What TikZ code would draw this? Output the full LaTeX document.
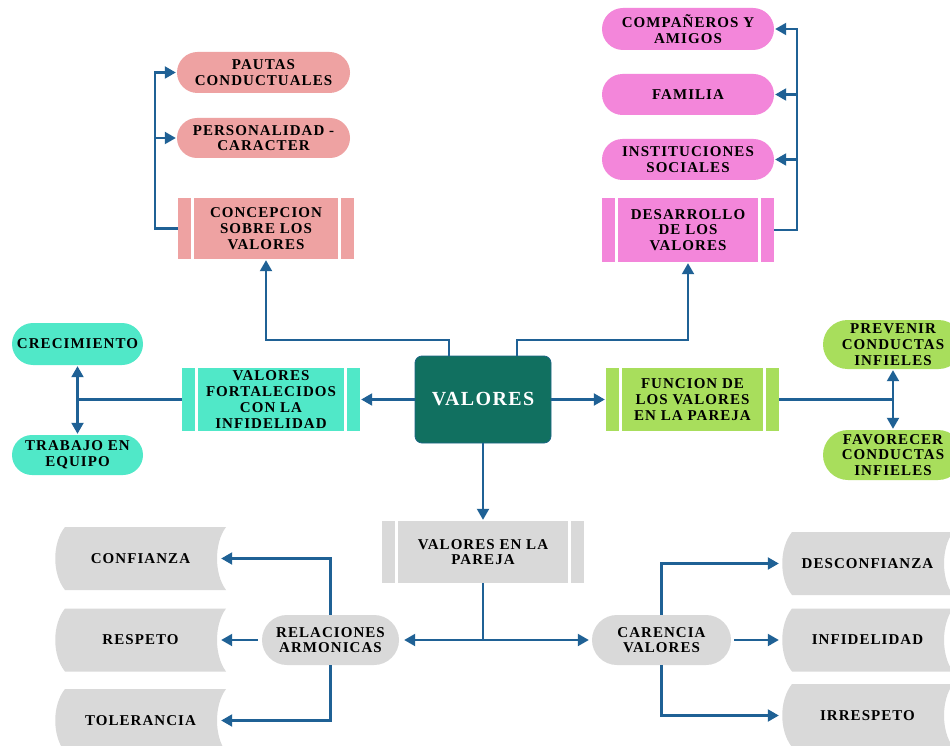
\documentclass[tikz,border=0pt]{standalone}
\usepackage{fontspec}
\setmainfont{Liberation Serif}[LetterSpace=7]
\usetikzlibrary{arrows.meta,shapes.misc}
\definecolor{arrowblue}{HTML}{1F6195}
\definecolor{salmon}{HTML}{EEA2A2}
\definecolor{pinkm}{HTML}{F386DA}
\definecolor{tealc}{HTML}{50E8C8}
\definecolor{greenc}{HTML}{A8DE5C}
\definecolor{grayc}{HTML}{D9D9D9}
\definecolor{centerc}{HTML}{117060}
\tikzset{
  txt/.style={font=\fontsize{15}{15.7}\selectfont\bfseries, align=center, text=black, inner sep=0pt},
  procbox/.style={txt, rectangle, minimum width=#1, path picture={
      \draw[white, line width=3pt]
        ([xshift=14.5pt]path picture bounding box.south west) -- ([xshift=14.5pt]path picture bounding box.north west)
        ([xshift=-14.5pt]path picture bounding box.south east) -- ([xshift=-14.5pt]path picture bounding box.north east);}},
  stad/.style={txt, rounded rectangle, minimum width=#1},
  storebox/.style={txt, rectangle, minimum width=171pt, minimum height=63pt, path picture={
      \fill[grayc]
        ([xshift=10pt]path picture bounding box.north west)
        .. controls ([xshift=-3pt,yshift=-16pt]path picture bounding box.north west)
        and ([xshift=-3pt,yshift=16pt]path picture bounding box.south west) ..
        ([xshift=10pt]path picture bounding box.south west)
        -- (path picture bounding box.south east)
        .. controls ([xshift=-12pt,yshift=16pt]path picture bounding box.south east)
        and ([xshift=-12pt,yshift=-16pt]path picture bounding box.north east) ..
        (path picture bounding box.north east) -- cycle;}},
  conn/.style={draw=arrowblue, line width=2.1pt},
  arr/.style={conn, -{Triangle[length=11pt,width=12pt]}, shorten >=1pt},
}
\begin{document}
\begin{tikzpicture}[x=1pt,y=-1pt]
\clip (0,0) rectangle (950,746);
\fill[white] (0,0) rectangle (950,746);

% centre
\node[rectangle, rounded corners=7pt, fill=centerc, draw=arrowblue!70!centerc, line width=0.8pt,
  minimum width=136pt, minimum height=87pt, text=white,
  font=\fontsize{20}{22}\selectfont\bfseries] (valores) at (483,399.5) {VALORES};

% top left group
\node[procbox=176pt, fill=salmon, minimum height=61pt] (concep) at (266,228.5) {CONCEPCION\\SOBRE LOS\\VALORES};
\node[stad=173pt, fill=salmon, minimum height=41pt] (pautas) at (263.5,72.5) {PAUTAS\\CONDUCTUALES};
\node[stad=173pt, fill=salmon, minimum height=40pt] (person) at (263.5,138) {PERSONALIDAD -\\CARACTER};

% top right group
\node[procbox=172pt, fill=pinkm, minimum height=64pt] (desarr) at (688,230) {DESARROLLO\\DE LOS\\VALORES};
\node[stad=172pt, fill=pinkm, minimum height=42pt] (compan) at (688,29) {COMPAÑEROS Y\\AMIGOS};
\node[stad=172pt, fill=pinkm, minimum height=41pt] (familia) at (688,94.5) {FAMILIA};
\node[stad=172pt, fill=pinkm, minimum height=41pt] (instit) at (688,159.5) {INSTITUCIONES\\SOCIALES};

% left group
\node[procbox=178pt, fill=tealc, minimum height=63pt] (fort) at (271,399.5) {VALORES\\FORTALECIDOS\\CON LA\\INFIDELIDAD};
\node[stad=131pt, fill=tealc, minimum height=42pt] (crec) at (77.5,344) {CRECIMIENTO};
\node[stad=131pt, fill=tealc, minimum height=40pt] (trab) at (77.5,455) {TRABAJO EN\\EQUIPO};

% right group
\node[procbox=173pt, fill=greenc, minimum height=63pt] (func) at (692.5,399.5) {FUNCION DE\\LOS VALORES\\EN LA PAREJA};
\node[stad=140pt, fill=greenc, minimum height=49pt] (prev) at (893,344.5) {PREVENIR\\CONDUCTAS\\INFIELES};
\node[stad=140pt, fill=greenc, minimum height=50pt] (favo) at (893,455) {FAVORECER\\CONDUCTAS\\INFIELES};

% bottom
\node[procbox=202pt, fill=grayc, minimum height=62pt] (pareja) at (483,552) {VALORES EN LA\\PAREJA};
\node[stad=137pt, fill=grayc, minimum height=50pt] (relac) at (330.5,640) {RELACIONES\\ARMONICAS};
\node[stad=139pt, fill=grayc, minimum height=50pt] (caren) at (661.5,640) {CARENCIA\\VALORES};

\node[storebox] (conf) at (140.5,558.5) {CONFIANZA};
\node[storebox] (resp) at (140.5,640) {RESPETO};
\node[storebox] (toler) at (140.5,720.5) {TOLERANCIA};
\node[storebox] (desc) at (867.5,563.5) {DESCONFIANZA};
\node[storebox] (infid) at (867.5,640) {INFIDELIDAD};
\node[storebox] (irres) at (867.5,715.5) {IRRESPETO};

% connectors from centre
\draw[arr] ([xshift=-34pt]valores.north) -- ++(0,-16) -| (concep.south);
\draw[arr] ([xshift=34pt]valores.north) -- ++(0,-16) -| (desarr.south);
\draw[arr] (valores.west) -- (fort.east);
\draw[arr] (valores.east) -- (func.west);
\draw[arr] (valores.south) -- (pareja.north);

% concepcion branch
\coordinate (cl) at ([xshift=-23pt]concep.west);
\draw[arr] (concep.west) -- (cl) |- (pautas.west);
\draw[arr] (cl |- person.west) -- (person.west);

% desarrollo branch
\coordinate (dr) at ([xshift=23pt]desarr.east);
\draw[arr] (desarr.east) -- (dr) |- (compan.east);
\draw[arr] (dr |- familia.east) -- (familia.east);
\draw[arr] (dr |- instit.east) -- (instit.east);

% fortalecidos branch
\coordinate (fl) at (fort.west -| crec.south);
\draw[conn] (fort.west) -- (fl);
\draw[arr] (fl) -- (crec.south);
\draw[arr] (fl) -- (trab.north);

% funcion branch
\coordinate (fr) at (func.east -| prev.south);
\draw[conn] (func.east) -- (fr);
\draw[arr] (fr) -- (prev.south);
\draw[arr] (fr) -- (favo.north);

% pareja branch
\coordinate (pj) at (pareja.south |- relac.east);
\draw[conn] (pareja.south) -- (pj);
\draw[arr] (pj) -- ([xshift=4pt]relac.east);
\draw[arr] (pj) -- ([xshift=-2pt]caren.west);

% relaciones branch
\draw[arr] (relac.north) |- ([xshift=-6pt]conf.east);
\draw[arr] ([xshift=-4pt]relac.west) -- ([xshift=-6pt]resp.east);
\draw[arr] (relac.south) |- ([xshift=-6pt]toler.east);

% carencia branch
\draw[arr] (caren.north) |- ([xshift=-2pt]desc.west);
\draw[arr] ([xshift=3pt]caren.east) -- ([xshift=-2pt]infid.west);
\draw[arr] (caren.south) |- ([xshift=-2pt]irres.west);
\end{tikzpicture}
\end{document}
